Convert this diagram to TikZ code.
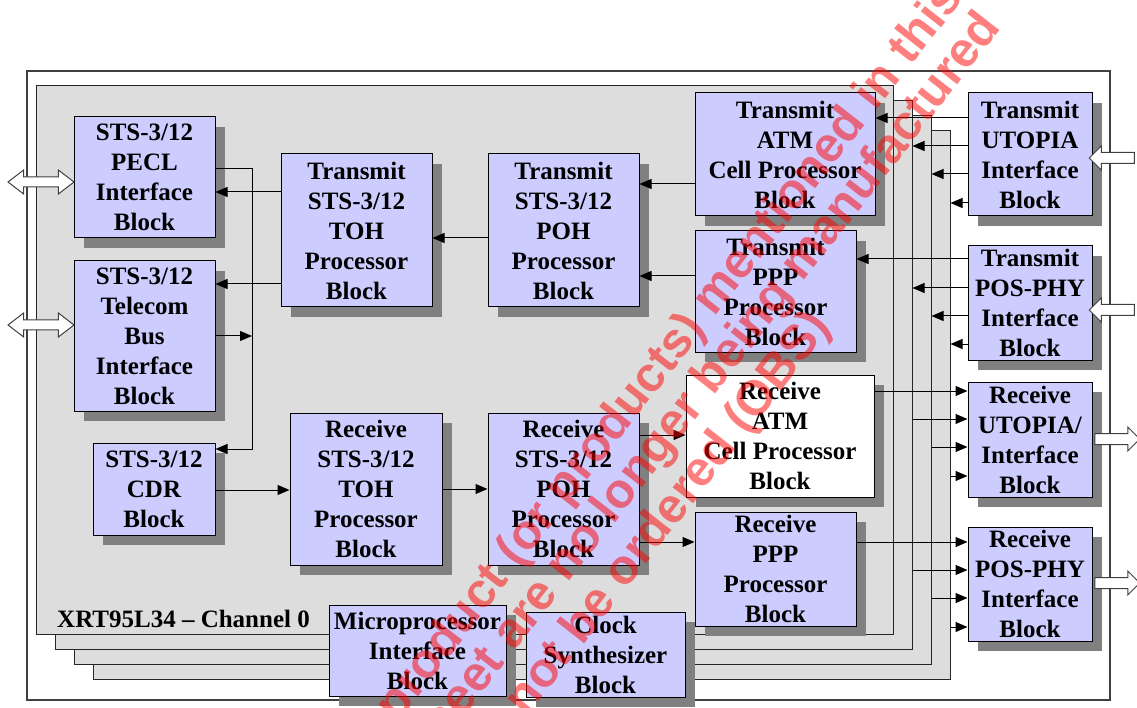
\documentclass[tikz,border=0pt]{standalone}
\usepackage{fontspec}
\setmainfont{Liberation Serif}
\newfontfamily\wmfont{Liberation Sans}
\usetikzlibrary{arrows.meta,calc,shadows,shapes.arrows}
\definecolor{blklav}{HTML}{CCCCFF}
\definecolor{chgray}{HTML}{DDDDDD}
\definecolor{shgray}{HTML}{808080}
\definecolor{framegray}{HTML}{404040}
\definecolor{wmred}{HTML}{FF0000}
\tikzset{
  >={Triangle[length=12pt,width=10pt]},
  % blokken
  blk/.style={draw=black,fill=blklav,line width=1pt,inner sep=0pt,align=center,
              font=\fontsize{25}{30}\selectfont\bfseries,
              drop shadow={shadow xshift=10pt,shadow yshift=-10pt,fill=shgray,opacity=1}},
  chan/.style={draw=black!85,fill=chgray,line width=1pt,minimum width=857pt,minimum height=548pt},
  chlabel/.style={font=\fontsize{25}{30}\selectfont\bfseries,anchor=base west,inner sep=0pt},
  % verbindingen
  wire/.style={->,line width=1pt},
  fatdbl/.style={double arrow,draw=framegray,fill=white,line width=1pt,inner xsep=0pt,
                 inner ysep=4.5pt,double arrow head extend=7pt,double arrow tip angle=75,
                 minimum width=23pt},
  fatin/.style={single arrow,draw=framegray,fill=white,line width=1pt,inner xsep=0pt,
                inner ysep=5pt,single arrow head extend=6.5pt,minimum width=23pt,
                shape border rotate=180},
  fatout/.style={single arrow,draw=framegray,fill=white,line width=1pt,inner xsep=0pt,
                 inner ysep=5pt,single arrow head extend=6.5pt,minimum width=23pt},
  wm/.style={font=\wmfont\bfseries\fontsize{49}{54}\selectfont,text=wmred,text opacity=0.5,
             rotate=52,anchor=base west,inner sep=0pt},
}
\begin{document}
\begin{tikzpicture}[x=1pt,y=-1pt]
  \useasboundingbox (0,0) rectangle (1137,708);
  \draw[draw=framegray,fill=white,line width=1.2pt] (27,71) rectangle (1110,700);
  % kanalen 3..0
  \node[chan] (ch3) at (521.5,405) {};
  \node[chan] (ch2) at (502.5,390) {};
  \node[chan] (ch1) at (483.5,375) {};
  \node[chan] (ch0) at (464.5,360) {};
  \node[chlabel] (chlbl) at (57,627) {XRT95L34 -- Channel 0};
  % lijnzijde
  \node[blk,minimum width=141pt,minimum height=121pt] (pecl) at (144.5,177.5) {STS-3/12\\PECL\\Interface\\Block};
  \node[blk,minimum width=141pt,minimum height=150pt] (tcom) at (144.5,336) {STS-3/12\\Telecom\\Bus\\Interface\\Block};
  \node[blk,minimum width=122pt,minimum height=92pt] (cdr) at (154,489) {STS-3/12\\CDR\\Block};
  \node[blk,minimum width=151pt,minimum height=153pt] (ttoh) at (356.5,230.5) {Transmit\\STS-3/12\\TOH\\Processor\\Block};
  \node[blk,minimum width=151pt,minimum height=153pt] (tpoh) at (563.5,230.5) {Transmit\\STS-3/12\\POH\\Processor\\Block};
  \node[blk,minimum width=152pt,minimum height=152pt] (rtoh) at (366,489) {Receive\\STS-3/12\\TOH\\Processor\\Block};
  \node[blk,minimum width=151pt,minimum height=152pt] (rpoh) at (563.5,489) {Receive\\STS-3/12\\POH\\Processor\\Block};
  % cel / pakket
  \node[blk,minimum width=180pt,minimum height=123pt] (tatm) at (785,154.5) {Transmit\\ATM\\Cell Processor\\Block};
  \node[blk,minimum width=161pt,minimum height=121pt] (tppp) at (775.5,291.5) {Transmit\\PPP\\Processor\\Block};
  \node[blk,fill=white,minimum width=188pt,minimum height=122pt] (ratm) at (780,436) {Receive\\ATM\\Cell Processor\\Block};
  \node[blk,minimum width=161pt,minimum height=114pt] (rppp) at (775.5,569) {Receive\\PPP\\Processor\\Block};
  \node[blk,minimum width=177pt,minimum height=91pt] (mpi) at (417.5,650.5) {Microprocessor\\Interface\\Block};
  \node[blk,minimum width=159pt,minimum height=85pt] (clk) at (605.5,654.5) {Clock\\Synthesizer\\Block};
  % systeemzijde
  \node[blk,minimum width=124pt,minimum height=123pt] (tuto) at (1030,154.5) {Transmit\\UTOPIA\\Interface\\Block};
  \node[blk,minimum width=124pt,minimum height=114pt] (tpos) at (1030,303) {Transmit\\POS-PHY\\Interface\\Block};
  \node[blk,minimum width=124pt,minimum height=115pt] (ruto) at (1030,439.5) {Receive\\UTOPIA/\\Interface\\Block};
  \node[blk,minimum width=124pt,minimum height=114pt] (rpos) at (1030,584) {Receive\\POS-PHY\\Interface\\Block};
  % externe poorten
  \node[fatdbl,minimum height=66pt] (pecl io) at (41,182) {};
  \node[fatdbl,minimum height=66pt] (tcom io) at (41,325) {};
  \node[fatin,minimum height=45pt] (tuto in) at (1114.5,158) {};
  \node[fatin,minimum height=45pt] (tpos in) at (1114.5,310) {};
  \node[fatout,minimum height=45pt] (ruto out) at (1114.5,439) {};
  \node[fatout,minimum height=45pt] (rpos out) at (1114.5,583) {};
  % lijnzijde verbindingen
  \coordinate (lbus) at (252,169);
  \draw[wire] (pecl.east |- 0,169) -- (lbus) |- (cdr.east |- 0,449);
  \draw[wire] (tcom.east |- 0,336) -- (lbus |- 0,336);
  \draw[wire] (ttoh.west |- 0,192) -- (pecl.east |- 0,192);
  \draw[wire] (ttoh.west |- 0,284) -- (tcom.east |- 0,284);
  \draw[wire] (tpoh.west |- 0,238) -- (ttoh.east |- 0,238);
  \draw[wire] (tatm.west |- 0,184) -- (tpoh.east |- 0,184);
  \draw[wire] (tppp.west |- 0,276) -- (tpoh.east |- 0,276);
  \draw[wire] (cdr.east |- 0,490) -- (rtoh.west |- 0,490);
  \draw[wire] (rtoh.east |- 0,489) -- (rpoh.west |- 0,489);
  \draw[wire] (rpoh.east |- 0,435) -- (ratm.west |- 0,435);
  \draw[wire] (rpoh.east |- 0,542) -- (rppp.west |- 0,542);
  % systeemzijde verbindingen
  \draw[wire] (tuto.west |- 0,118) -- (tatm.east |- 0,118);
  \draw[wire] (tuto.west |- 0,146) -- (ch1.east |- 0,146);
  \draw[wire] (tuto.west |- 0,174) -- (ch2.east |- 0,174);
  \draw[wire] (tuto.west |- 0,203) -- (ch3.east |- 0,203);
  \draw[wire] (tpos.west |- 0,259) -- (tppp.east |- 0,259);
  \draw[wire] (tpos.west |- 0,288) -- (ch1.east |- 0,288);
  \draw[wire] (tpos.west |- 0,316) -- (ch2.east |- 0,316);
  \draw[wire] (tpos.west |- 0,344) -- (ch3.east |- 0,344);
  \draw[wire] (ratm.east |- 0,391) -- (ruto.west |- 0,391);
  \draw[wire] (ch1.east |- 0,419) -- (ruto.west |- 0,419);
  \draw[wire] (ch2.east |- 0,447) -- (ruto.west |- 0,447);
  \draw[wire] (ch3.east |- 0,476) -- (ruto.west |- 0,476);
  \draw[wire] (rppp.east |- 0,542) -- (rpos.west |- 0,542);
  \draw[wire] (ch1.east |- 0,570) -- (rpos.west |- 0,570);
  \draw[wire] (ch2.east |- 0,598) -- (rpos.west |- 0,598);
  \draw[wire] (ch3.east |- 0,627) -- (rpos.west |- 0,627);
  % watermerk
  \begin{scope}
    \clip (0,0) rectangle (1137,708);
    \begin{scope}[shift={(365,843)},rotate=52]
      \node[wm] (wm1) at (0,-48) {This product (or products) mentioned in this};
      \node[wm] (wm2) at (0,0) {datasheet are no longer being manufactured};
      \node[wm] (wm3) at (0,50) {and can not be ordered (OBS)};
    \end{scope}
  \end{scope}
\end{tikzpicture}
\end{document}
